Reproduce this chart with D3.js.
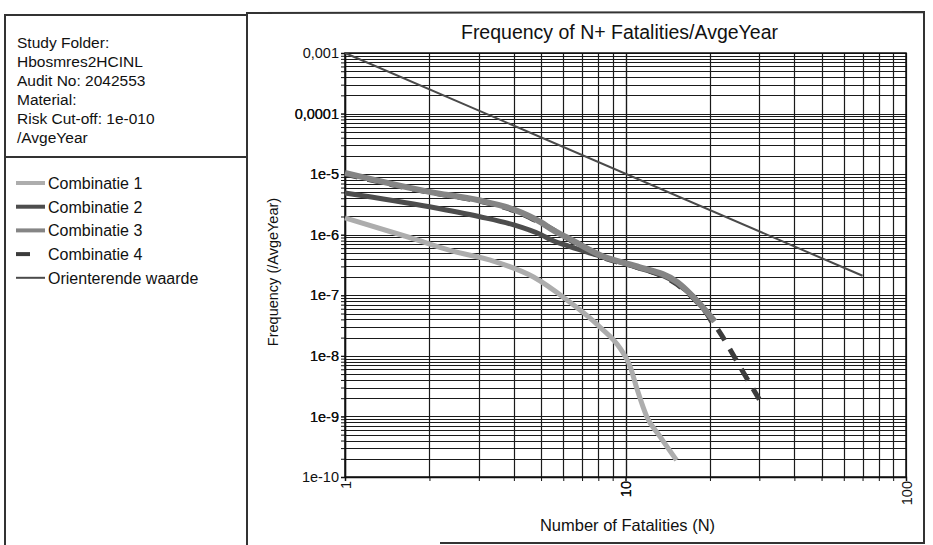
<!DOCTYPE html>
<html>
<head>
<meta charset="utf-8">
<script src="https://cdn.jsdelivr.net/npm/d3@7"></script>
<style>
  html, body { margin: 0; padding: 0; background: #fff; }
  svg { display: block; font-family: "Liberation Sans", Arial, sans-serif; }
</style>
</head>
<body>
<svg id="chart" width="933" height="545"></svg>
<script>
// ---------- data ----------
const infoLines = ["Study Folder:", "Hbosmres2HCINL", "Audit No: 2042553", "Material:", "Risk Cut-off: 1e-010", "/AvgeYear"];
const seriesNames = ["Combinatie 1", "Combinatie 2", "Combinatie 3", "Combinatie 4", "Orienterende waarde"];

const comb1 = [[1,1.9e-6],[1.7,9e-7],[2.4,5.4e-7],[3.3,3.8e-7],[4.7,2.0e-7],[6.2,8.3e-8],[8.1,3.0e-8],[9.6,1.3e-8],[10.4,6.6e-9],[11,2.8e-9],[11.9,1.0e-9],[13.3,4.6e-10],[15.2,1.9e-10]];
const comb2 = [[1,4.9e-6],[2,2.9e-6],[3,2.0e-6],[4,1.45e-6],[5,1.0e-6],[5.5,8.0e-7],[6.3,6.4e-7],[8.3,4.3e-7],[11,2.9e-7],[15.3,1.55e-7],[19.5,5.0e-8],[20.3,3.6e-8]];
const comb3 = [[1,1.05e-5],[2,5.1e-6],[3,3.7e-6],[4,2.6e-6],[5,1.6e-6],[5.5,1.2e-6],[6.3,8.6e-7],[8.3,4.4e-7],[11,3.0e-7],[15.3,1.65e-7],[19.5,5.3e-8],[20.8,3.7e-8]];
const comb4 = [[1,1.0e-5],[2,5.0e-6],[3,3.6e-6],[4,2.5e-6],[5,1.55e-6],[8.3,4.2e-7],[11,2.9e-7],[15.3,1.5e-7],[19.5,5.0e-8],[22,2.2e-8],[25,8.0e-9],[30,1.9e-9]];
const orient = [[1,1e-3],[70,2.1e-7]];

const xTickValues = [1, 10, 100];
const xTickLabels = ["1", "10", "100"];
const yTickValues = [1e-3, 1e-4, 1e-5, 1e-6, 1e-7, 1e-8, 1e-9, 1e-10];
const yTickLabels = ["0,001", "0,0001", "1e-5", "1e-6", "1e-7", "1e-8", "1e-9", "1e-10"];

const titleText = "Frequency of N+ Fatalities/AvgeYear";
const xAxisTitle = "Number of Fatalities (N)";
const yAxisTitle = "Frequency (/AvgeYear)";

// ---------- layout ----------
const svg = d3.select("#chart");
const plot = {left: 345, right: 906, top: 53, bottom: 477};

const x = d3.scaleLog().domain([1, 100]).range([plot.left, plot.right]);
const y = d3.scaleLog().domain([1e-10, 1e-3]).range([plot.bottom, plot.top]);

// panel borders
const borderColor = "#333";
svg.append("path")
  .attr("d", "M5,545 L5,15 L247,15 M247,545 L247,13 L924,12 L924,543 L440,543")
  .attr("fill", "none").attr("stroke", borderColor).attr("stroke-width", 2);
svg.append("line").attr("x1", 5).attr("x2", 247).attr("y1", 157).attr("y2", 157)
  .attr("stroke", borderColor).attr("stroke-width", 2);

// info text
svg.append("g").selectAll("text").data(infoLines).join("text")
  .attr("x", 17).attr("y", (d, i) => 48 + i * 19)
  .attr("font-size", 15.5).attr("fill", "#111").text(d => d);

// ---------- grid ----------
const xMinor = [];
for (let d = 1; d <= 10; d *= 10) for (let k = 1; k <= 10; k++) xMinor.push(k * d);
const yMinor = [];
for (let e = -10; e < -3; e++) for (let k = 1; k <= 10; k++) yMinor.push(k * Math.pow(10, e));

const grid = svg.append("g");
grid.selectAll("line.vx").data(xMinor).join("line")
  .attr("x1", d => Math.round(x(d)) + 0.5).attr("x2", d => Math.round(x(d)) + 0.5)
  .attr("y1", plot.top).attr("y2", plot.bottom)
  .attr("stroke", "#1a1a1a").attr("stroke-width", 1.2);
grid.selectAll("line.hy").data(yMinor).join("line")
  .attr("y1", d => Math.round(y(d)) + 0.5).attr("y2", d => Math.round(y(d)) + 0.5)
  .attr("x1", plot.left).attr("x2", plot.right)
  .attr("stroke", "#1a1a1a").attr("stroke-width", 1.2);

// axes
const xAxis = d3.axisBottom(x).tickValues(xMinor).tickSize(4).tickFormat(d => {
  const i = xTickValues.indexOf(d); return i >= 0 ? xTickLabels[i] : "";
});
const gx = svg.append("g").attr("transform", `translate(0,${plot.bottom})`).call(xAxis);
gx.select(".domain").attr("stroke", "#111").attr("stroke-width", 1.5);
gx.selectAll(".tick line").attr("stroke", "#111");
gx.selectAll(".tick text")
  .attr("font-size", 14.5).attr("fill", "#111")
  .attr("font-family", "Liberation Sans, Arial, sans-serif")
  .attr("text-anchor", "end")
  .attr("transform", "rotate(-90)")
  .attr("x", -4).attr("y", 0).attr("dy", "0.35em");

const yAxis = d3.axisLeft(y).tickValues(yMinor).tickSize(4).tickFormat(d => {
  const i = yTickValues.findIndex(v => Math.abs(v - d) / v < 1e-6); return i >= 0 ? yTickLabels[i] : "";
});
const gy = svg.append("g").attr("transform", `translate(${plot.left},0)`).call(yAxis);
gy.select(".domain").attr("stroke", "#111").attr("stroke-width", 1.5);
gy.selectAll(".tick line").attr("stroke", "#111");
gy.selectAll(".tick text").attr("font-size", 14.5).attr("fill", "#111")
  .attr("font-family", "Liberation Sans, Arial, sans-serif").attr("x", -6);

// frame
svg.append("rect").attr("x", plot.left).attr("y", plot.top)
  .attr("width", plot.right - plot.left).attr("height", plot.bottom - plot.top)
  .attr("fill", "none").attr("stroke", "#111").attr("stroke-width", 1.5);

// ---------- series ----------
const line = d3.line().x(d => x(d[0])).y(d => y(d[1])).curve(d3.curveMonotoneX);
const styles = [
  {data: comb1, color: "#adadad", width: 5, dash: null},
  {data: comb2, color: "#4d4d4d", width: 5, dash: null},
  {data: comb3, color: "#858585", width: 6, dash: null},
  {data: comb4, color: "#3c3c3c", width: 5, dash: "13,10"},
  {data: orient, color: "#4a4a4a", width: 2, dash: null}
];
const drawOrder = [3, 1, 2, 0, 4];
const gs = svg.append("g");
drawOrder.forEach(i => {
  const s = styles[i];
  gs.append("path").datum(s.data)
    .attr("d", line).attr("fill", "none")
    .attr("stroke", s.color).attr("stroke-width", s.width)
    .attr("stroke-linecap", "butt").attr("stroke-linejoin", "round")
    .attr("stroke-dasharray", s.dash);
});

// ---------- legend ----------
const lg = svg.append("g");
seriesNames.forEach((name, i) => {
  const yy = 183 + i * 23.7;
  const s = styles[i];
  const x2 = i === 3 ? 30 : 45;
  lg.append("line").attr("x1", 16).attr("x2", x2).attr("y1", yy).attr("y2", yy)
    .attr("stroke", s.color).attr("stroke-width", i === 4 ? 2 : 4);
  lg.append("text").attr("x", 48).attr("y", yy + 6).attr("font-size", 16)
    .attr("fill", "#111").text(name);
});

// ---------- titles ----------
svg.append("text").attr("x", (plot.left + plot.right) / 2 - 6).attr("y", 39)
  .attr("text-anchor", "middle").attr("font-size", 19.5).attr("fill", "#111").text(titleText);
svg.append("text").attr("x", (plot.left + plot.right) / 2 + 2).attr("y", 531)
  .attr("text-anchor", "middle").attr("font-size", 16.5).attr("fill", "#111").text(xAxisTitle);
svg.append("text").attr("transform", "translate(278,272) rotate(-90)")
  .attr("text-anchor", "middle").attr("font-size", 14.5).attr("fill", "#111").text(yAxisTitle);
</script>
</body>
</html>
